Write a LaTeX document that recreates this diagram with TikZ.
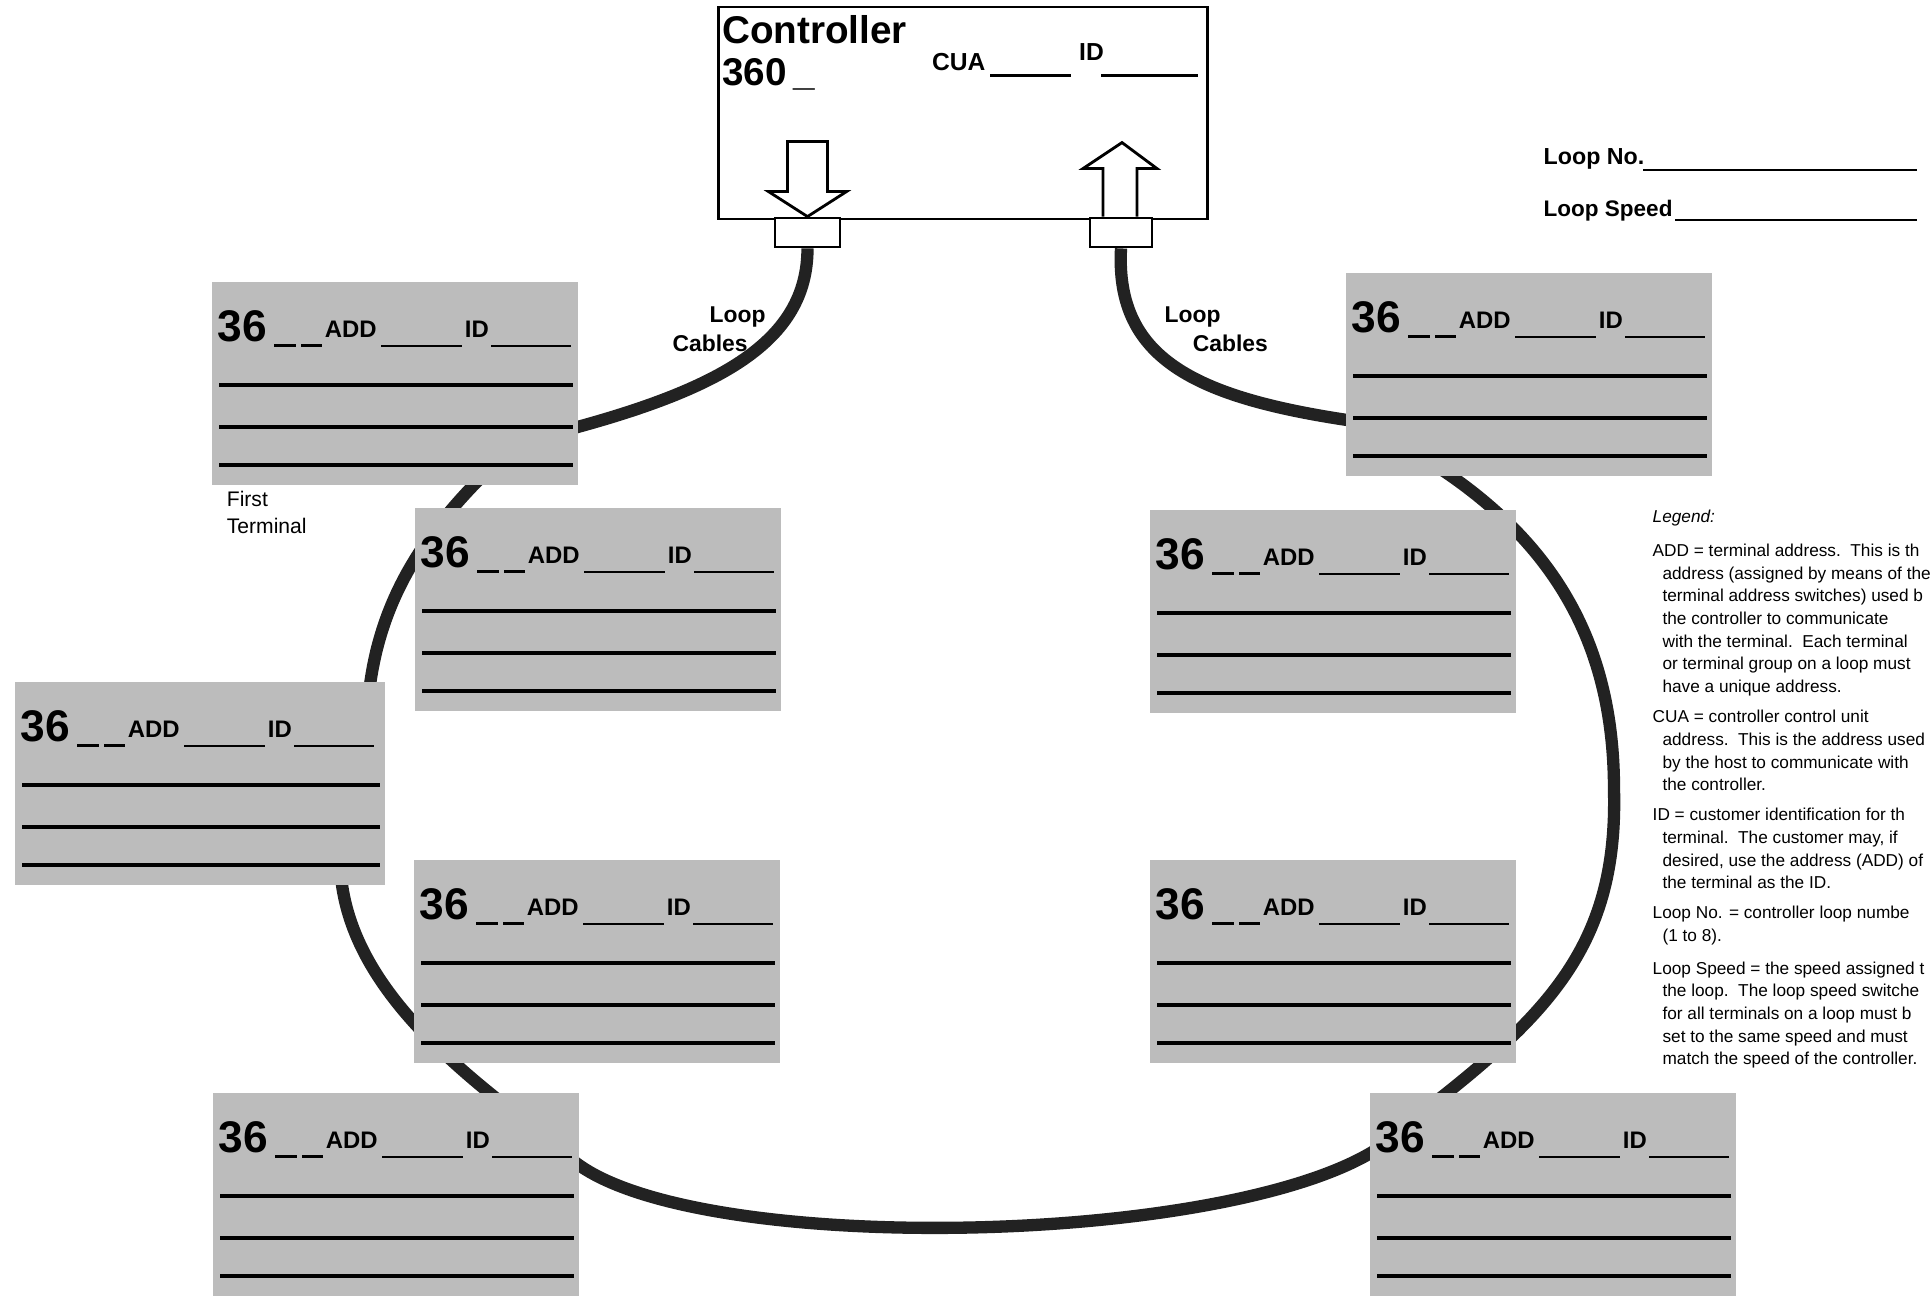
\documentclass[tikz,border=0pt]{standalone}
\usepackage{fontspec}
\setmainfont{Liberation Sans}
\usetikzlibrary{calc,positioning}
\definecolor{CardGray}{RGB}{188,188,188}
\definecolor{CableGray}{RGB}{34,34,34}
\pgfdeclarelayer{background}
\pgfsetlayers{background,main}
\tikzset{
  ctrlbox/.style={draw,line width=0.8pt,minimum width=4.88cm,minimum height=2.12cm,inner sep=0pt},
  plug/.style={draw,fill=white,line width=0.8pt,minimum height=0.29cm,inner sep=0pt},
  blockarrow/.style={draw,fill=white,line width=0.8pt,line join=miter},
  termcard/.style={fill=CardGray,minimum width=3.66cm,minimum height=2.03cm,inner sep=0pt},
  numtext/.style={anchor=base west,inner sep=0pt,font=\bfseries\fontsize{12.6}{14}\selectfont},
  addtext/.style={anchor=base west,inner sep=0pt,font=\bfseries\fontsize{6.8}{8}\selectfont},
  headtext/.style={anchor=base west,inner sep=0pt,font=\bfseries\fontsize{11}{13}\selectfont},
  labeltext/.style={inner sep=0pt,align=left,font=\bfseries\fontsize{6.5}{8.2}\selectfont},
  blank/.style={line width=0.7pt},
  dashline/.style={line width=0.9pt},
  rule/.style={line width=1pt},
  cable/.style={line width=3.5pt,draw=CableGray}
}
\begin{document}
\begin{tikzpicture}[x=0.01cm,y=-0.01cm]
\useasboundingbox (0,0) rectangle (1930,1297);

% controller with its two loop plugs
\node[ctrlbox] (ctrl) at (963,113) {};
\node[headtext] (ctrlname) at ($(ctrl.north west)+(4,38)$) {Controller};
\node[headtext] (ctrlnum) at ($(ctrl.north west)+(4,80)$) {360\,\_};
\node[addtext,font=\bfseries\fontsize{7}{8}\selectfont] (cua) at ($(ctrl.north west)+(214,65)$) {CUA};
\draw[blank] ($(ctrl.north west)+(273,70)$) -- +(81,0);
\node[addtext,font=\bfseries\fontsize{7}{8}\selectfont] (ctrlid) at ($(ctrl.north west)+(361,55)$) {ID};
\draw[blank] ($(ctrl.north west)+(384,70)$) -- +(97,0);

\node[plug,minimum width=0.65cm] (lcon) at (807.5,232.5) {};
\node[plug,minimum width=0.62cm] (rcon) at (1121,232.5) {};
\draw[blockarrow] ($(lcon.north)+(-20,-75)$) -- ++(40,0) -- ++(0,50) -- ++(19,0)
  -- (lcon.north) -- ++(-39,-25) -- ++(19,0) -- cycle;
\draw[blockarrow] ($(rcon.north)+(-18,0)$) -- ++(0,-48) -- ++(-20,0)
  -- ($(rcon.north)+(1,-74)$) -- ++(35,26) -- ++(-20,0) -- ++(0,48);

\node[labeltext,anchor=north west] (lcable) at (672,306) {\hspace*{10.5pt}Loop\\Cables};
\node[labeltext,anchor=north west] (rcable) at (1164,306) {Loop\\\hspace*{8pt}Cables};

% loop number and speed
\node[addtext,font=\bfseries\fontsize{6.6}{8}\selectfont] (loopno) at (1543,165) {Loop No.};
\draw[blank] ($(loopno.base west)+(100,5)$) -- +(274,0);
\node[addtext,font=\bfseries\fontsize{6.4}{8}\selectfont] (loopspd) at (1543,217) {Loop Speed};
\draw[blank] ($(loopspd.base west)+(132,3)$) -- +(242,0);

% terminal cards
\node[termcard] (t1) at (395,383.5) {};
\node[termcard] (t2) at (598,609.5) {};
\node[termcard,minimum width=3.70cm] (t3) at (200,783.5) {};
\node[termcard] (t4) at (597,961.5) {};
\node[termcard] (t5) at (396,1194.5) {};
\node[termcard] (t6) at (1529,374.5) {};
\node[termcard] (t7) at (1333,611.5) {};
\node[termcard] (t8) at (1333,961.5) {};
\node[termcard] (t9) at (1553,1194.5) {};
\foreach \c in {t1,t2,t3,t4,t5,t6,t7,t8,t9} {
  \node[numtext] at ($(\c.north west)+(6,60)$) {36};
  \draw[dashline] ($(\c.north west)+(63,64)$) -- +(22,0);
  \draw[dashline] ($(\c.north west)+(90,64)$) -- +(21,0);
  \node[addtext] at ($(\c.north west)+(113,56)$) {ADD};
  \draw[blank] ($(\c.north west)+(170,65)$) -- +(81,0);
  \node[addtext] at ($(\c.north west)+(253,56)$) {ID};
  \draw[blank] ($(\c.north west)+(280,65)$) -- +(80,0);
  \foreach \r in {104,146,184}
    \draw[rule] ($(\c.north west)+(8,\r)$) -- ($(\c.north east)+(-6,\r)$);
}
\node[inner sep=0pt,anchor=north west,align=left,font=\fontsize{6}{7.66}\selectfont]
  (firstlbl) at ($(t1.south west)+(15,5)$) {First\\Terminal};

% the loop cable, behind the cards
\coordinate (rbend) at (1614,790);
\begin{pgfonlayer}{background}
  \draw[cable] (lcon.south) .. controls +(0,93) and +(160,-42) .. ($(t1.east)+(-18,48)$);
  \draw[cable] ($(t1.south)+(105,-27)$) .. controls +(-70,67) and +(5,-120) .. ($(t3.north)+(167,38)$);
  \draw[cable] ($(t3.south)+(140,-25)$) .. controls +(2,100) and +(-90,-70) .. ($(t5.north)+(114,17)$);
  \draw[cable] ($(t5.east)+(-19,-46)$) .. controls +(90,112) and +(-140,110) .. ($(t9.west)+(20,-54)$);
  \draw[cable] ($(t9.north)+(-153,37)$) .. controls +(145,-110) and +(4,160) .. (rbend)
    .. controls +(0,-140) and +(140,85) .. ($(t6.south)+(-109,-21)$);
  \draw[cable] (rcon.south) .. controls +(-6,113) and +(-165,-23) .. ($(t6.west)+(19,48)$);
\end{pgfonlayer}

% legend
\node[inner sep=0pt,anchor=north west,align=left,font=\fontsize{4.9}{6.45}\selectfont]
  (legend) at (1652,509) {\textit{Legend:}\\[3.3pt]
ADD = terminal address.\ \ This is th\\
\hspace*{2.8pt}address (assigned by means of the\\
\hspace*{2.8pt}terminal address switches) used b\\
\hspace*{2.8pt}the controller to communicate\\
\hspace*{2.8pt}with the terminal.\ \ Each terminal\\
\hspace*{2.8pt}or terminal group on a loop must\\
\hspace*{2.8pt}have a unique address.\\[2.1pt]
CUA = controller control unit\\
\hspace*{2.8pt}address.\ \ This is the address used\\
\hspace*{2.8pt}by the host to communicate with\\
\hspace*{2.8pt}the controller.\\[2.1pt]
ID = customer identification for th\\
\hspace*{2.8pt}terminal.\ \ The customer may, if\\
\hspace*{2.8pt}desired, use the address (ADD) of\\
\hspace*{2.8pt}the terminal as the ID.\\[2.1pt]
Loop No. = controller loop numbe\\
\hspace*{2.8pt}(1 to 8).\\[2.8pt]
Loop Speed = the speed assigned t\\
\hspace*{2.8pt}the loop.\ \ The loop speed switche\\
\hspace*{2.8pt}for all terminals on a loop must b\\
\hspace*{2.8pt}set to the same speed and must\\
\hspace*{2.8pt}match the speed of the controller.};
\end{tikzpicture}
\end{document}
